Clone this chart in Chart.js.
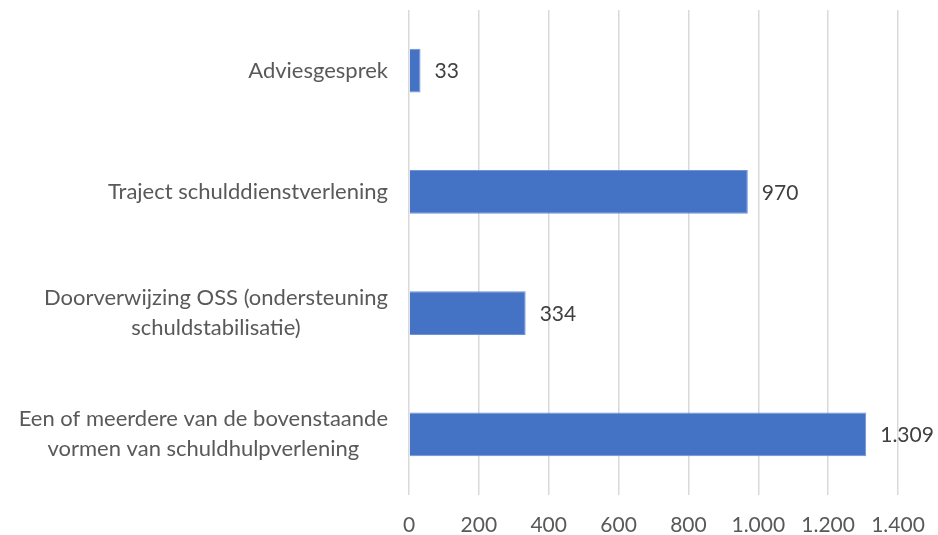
<!DOCTYPE html>
<html>
<head>
<meta charset="utf-8">
<script src="https://cdn.jsdelivr.net/npm/chart.js@4/dist/chart.umd.min.js"></script>
<style>
html,body{margin:0;padding:0;background:#fff;}
#wrap{width:938px;height:535px;position:relative;}
</style>
</head>
<body>
<div id="wrap"><canvas id="c"></canvas></div>
<script>
const categories = [
  "Adviesgesprek",
  "Traject schulddienstverlening",
  ["Doorverwijzing OSS (ondersteuning", "schuldstabilisatie)"],
  ["Een of meerdere van de bovenstaande", "vormen van schuldhulpverlening"]
];
const values = [33, 970, 334, 1309];
const xTicks = [0, 200, 400, 600, 800, 1000, 1200, 1400];

function fmt(n){
  return String(n).replace(/\B(?=(\d{3})+(?!\d))/g, ".");
}

const FONT = "Lato, 'Liberation Sans', sans-serif";
const TEXT = "#595959";

const valueLabels = {
  id: 'valueLabels',
  afterDatasetsDraw(chart){
    const ctx = chart.ctx;
    const meta = chart.getDatasetMeta(0);
    ctx.save();
    ctx.font = "21px " + FONT;
    ctx.fillStyle = "#404040";
    ctx.textAlign = "left";
    ctx.textBaseline = "middle";
    meta.data.forEach((bar, i) => {
      ctx.fillText(fmt(values[i]), bar.x + 14, bar.y + 1);
    });
    ctx.restore();
  }
};

// Category labels: block right-aligned to the axis, lines centred within the block
const categoryLabels = {
  id: 'categoryLabels',
  afterDraw(chart){
    const ctx = chart.ctx;
    const scale = chart.scales.y;
    const lineH = 30;
    ctx.save();
    ctx.font = "22px " + FONT;
    ctx.fillStyle = TEXT;
    ctx.textAlign = "center";
    ctx.textBaseline = "middle";
    const right = chart.chartArea.left - 21;
    chart.data.labels.forEach((lab, i) => {
      const lines = Array.isArray(lab) ? lab : [lab];
      const w = Math.max(...lines.map(l => ctx.measureText(l).width));
      const cx = right - w / 2;
      const cy = scale.getPixelForTick(i);
      const y0 = cy - (lines.length - 1) * lineH / 2;
      lines.forEach((l, k) => ctx.fillText(l, cx, y0 + k * lineH));
    });
    ctx.restore();
  }
};

new Chart(document.getElementById('c'), {
  type: 'bar',
  data: {
    labels: categories,
    datasets: [{
      data: values,
      backgroundColor: '#4472c4',
      borderColor: '#6f93d6',
      borderWidth: 1,
      categoryPercentage: 1,
      barPercentage: 0.36
    }]
  },
  options: {
    indexAxis: 'y',
    responsive: true,
    maintainAspectRatio: false,
    animation: false,
    layout: { padding: { left: 0, right: 40, top: 10, bottom: 0 } },
    plugins: { legend: { display: false }, tooltip: { enabled: false } },
    scales: {
      x: {
        min: 0, max: 1400,
        afterBuildTicks(scale){ scale.ticks = xTicks.map(v => ({value: v})); },
        afterFit(scale){ scale.height = 40; scale.paddingLeft = 0; scale.paddingRight = 0; },
        grid: { color: '#d9d9d9', lineWidth: 1.5, drawTicks: false },
        border: { display: false },
        ticks: {
          padding: 18,
          color: TEXT,
          font: { size: 21, family: FONT },
          maxRotation: 0,
          callback: (v) => fmt(v)
        }
      },
      y: {
        afterFit(scale){ scale.width = 409; scale.paddingTop = 0; scale.paddingBottom = 0; },
        grid: { display: false, drawTicks: false },
        border: { display: false },
        ticks: { display: false }
      }
    }
  },
  plugins: [valueLabels, categoryLabels]
});
</script>
</body>
</html>
